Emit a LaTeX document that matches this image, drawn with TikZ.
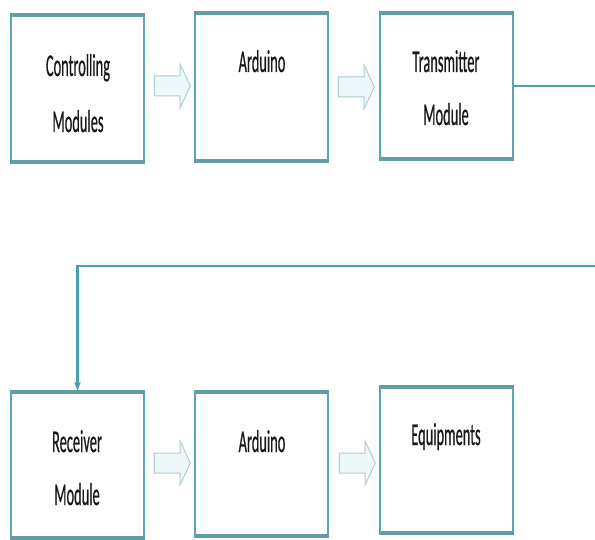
\documentclass[tikz,border=0pt]{standalone}
\usepackage{fontspec}
\usepackage{graphicx}
\newfontfamily\lblfont[FakeBold=0.8]{Carlito}
\usetikzlibrary{shapes.arrows,arrows.meta}
\definecolor{boxside}{RGB}{86,166,184}
\definecolor{boxbar}{RGB}{100,156,166}
\definecolor{connc}{RGB}{78,158,178}
\definecolor{harrowline}{RGB}{175,205,210}
\definecolor{harrowfill}{RGB}{238,247,249}
\definecolor{txt}{RGB}{25,25,25}
\newcommand{\tall}[1]{\scalebox{1}[2.2]{#1}}
\tikzset{
  x=1pt, y=-1pt,
  blockbox/.style={draw=boxside, line width=1.4pt, fill=white, inner sep=0pt,
    minimum width=133pt},
  bar/.style={draw=boxbar, line width=4.2pt},
  lbl/.style={anchor=base, inner sep=0pt, text=txt,
    font=\lblfont\fontsize{14.4}{14.4}\selectfont},
  hollow/.style={single arrow, draw=harrowline, fill=harrowfill, line width=1pt,
    inner xsep=0pt, inner ysep=9.5pt, minimum height=36pt, minimum width=43pt,
    single arrow head extend=12pt, single arrow tip angle=130},
  conn/.style={draw=connc, line width=2.8pt},
}
\begin{document}
\begin{tikzpicture}
\useasboundingbox (0,0) rectangle (595,540);
% boxes
\node[blockbox, minimum height=146pt] (b1) at (77.5,88.5) {};
\node[blockbox, minimum height=146pt] (b2) at (261.5,87) {};
\node[blockbox, minimum height=144pt] (b3) at (446.5,86) {};
\node[blockbox, minimum height=144pt] (b4) at (77.5,465) {};
\node[blockbox, minimum height=142pt] (b5) at (261.5,464) {};
\node[blockbox, minimum height=144pt] (b6) at (446.5,460) {};
\foreach \b in {b1,b2,b3,b4,b5,b6}{
  \draw[bar] (\b.north west) -- (\b.north east);
  \draw[bar] (\b.south west) -- (\b.south east);
}
% labels
\node[lbl] (t1a) at (78,76) {\tall{Controlling}};
\node[lbl] (t1b) at (78,132) {\tall{Modules}};
\node[lbl] (t2) at (262,72) {\tall{Arduino}};
\node[lbl] (t3a) at (446,72) {\tall{Transmitter}};
\node[lbl] (t3b) at (446,125) {\tall{Module}};
\node[lbl] (t4a) at (77,452) {\tall{Receiver}};
\node[lbl] (t4b) at (77,505) {\tall{Module}};
\node[lbl] (t5) at (262,452) {\tall{Arduino}};
\node[lbl] (t6) at (446,445) {\tall{Equipments}};
% hollow arrows
\node[hollow] (h1) at (170,86) {};
\node[hollow] (h2) at (354,87) {};
\node[hollow] (h3) at (170,463) {};
\node[hollow] (h4) at (355,463) {};
% connector
\coordinate (c1) at (602,86);
\coordinate (c2) at (602,266);
\draw[conn, -{Latex[length=10pt,width=7pt]}] (b3.east) -- (c1) -- (c2) -| (b4.north);
\end{tikzpicture}
\end{document}
